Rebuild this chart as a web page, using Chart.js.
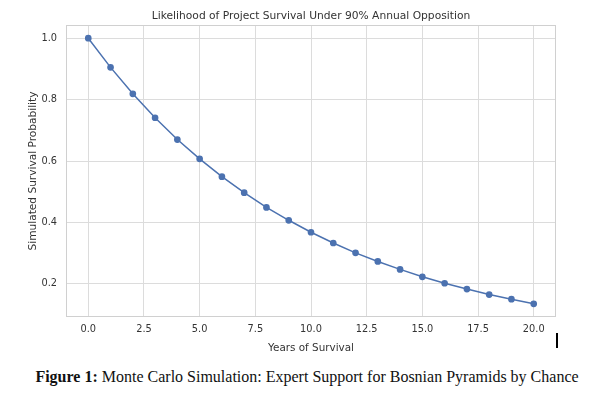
<!DOCTYPE html>
<html>
<head>
<meta charset="utf-8">
<script src="https://cdn.jsdelivr.net/npm/chart.js@4"></script>
<style>
  html, body { margin: 0; padding: 0; background: #fff; }
  body { width: 604px; height: 397px; position: relative; overflow: hidden; }
  #wrap { position: absolute; left: 0; top: 0; width: 604px; height: 355px; }
  #caption {
    position: absolute; left: 0; width: 614px; top: 368px; text-align: center;
    font-family: "Liberation Serif", "Times New Roman", serif; font-size: 16px; color: #111;
  }
  #cursor { position: absolute; left: 556px; top: 333px; width: 2px; height: 15px; background: #000; }
</style>
</head>
<body>
<div id="wrap"><canvas id="chart" width="604" height="355"></canvas></div>
<div id="cursor"></div>
<div id="caption"><b>Figure 1:</b> Monte Carlo Simulation: Expert Support for Bosnian Pyramids by Chance</div>
<script>
// anos simulados e probabilidade de sobrevivência
var years = [0, 1, 2, 3, 4, 5, 6, 7, 8, 9, 10, 11, 12, 13, 14, 15, 16, 17, 18, 19, 20];
var survival = [1.0, 0.905, 0.819, 0.741, 0.670, 0.607, 0.549, 0.497, 0.449, 0.407, 0.368,
                0.333, 0.301, 0.273, 0.247, 0.223, 0.202, 0.183, 0.165, 0.150, 0.135];
var xTicks = [0, 2.5, 5, 7.5, 10, 12.5, 15, 17.5, 20];
var yTicks = [0.2, 0.4, 0.6, 0.8, 1.0];
var TITLE = "Likelihood of Project Survival Under 90% Annual Opposition";

var FONT = "'DejaVu Sans', sans-serif";
var GRID = "#dcdcdc";

// borda da área de plotagem + título centrado sobre ela (como no matplotlib)
var frame = {
  id: "frame",
  afterDraw: function (chart) {
    var a = chart.chartArea, c = chart.ctx;
    c.save();
    c.strokeStyle = "#d0d0d0";
    c.lineWidth = 1;
    c.strokeRect(a.left + 0.5, a.top + 0.5, a.right - a.left - 1, a.bottom - a.top - 1);
    c.fillStyle = "#333";
    c.font = "10.7px " + FONT;
    c.textAlign = "center";
    c.textBaseline = "middle";
    c.fillText(TITLE, (a.left + a.right) / 2, a.top - 9);
    c.restore();
  }
};

new Chart(document.getElementById("chart"), {
  type: "line",
  data: {
    datasets: [{
      data: years.map(function (x, i) { return { x: x, y: survival[i] }; }),
      borderColor: "#4c72b0",
      backgroundColor: "#4c72b0",
      borderWidth: 1.5,
      pointRadius: 2.6,
      pointHoverRadius: 2.6,
      tension: 0
    }]
  },
  options: {
    responsive: false,
    animation: false,
    events: [],
    layout: { padding: { left: 0, right: 48, top: 25, bottom: 0 } },
    plugins: {
      legend: { display: false },
      tooltip: { enabled: false },
      title: { display: false }
    },
    scales: {
      x: {
        type: "linear",
        min: -1, max: 21,
        afterBuildTicks: function (s) { s.ticks = xTicks.map(function (v) { return { value: v }; }); },
        afterFit: function (s) { s.height = 38; },
        grid: { color: GRID, drawTicks: false },
        border: { display: false },
        ticks: {
          padding: 7, color: "#333",
          font: { family: FONT, size: 9.8 },
          callback: function (v) { return v.toFixed(1); }
        },
        title: {
          display: true, text: "Years of Survival", color: "#333",
          font: { family: FONT, size: 10.4 }, padding: { top: 0, bottom: 0 }
        }
      },
      y: {
        min: 0.092, max: 1.043,
        afterBuildTicks: function (s) { s.ticks = yTicks.map(function (v) { return { value: v }; }); },
        afterFit: function (s) { s.width = 66; },
        grid: { color: GRID, drawTicks: false },
        border: { display: false },
        ticks: {
          padding: 9, color: "#333",
          font: { family: FONT, size: 9.8 },
          callback: function (v) { return v.toFixed(1); }
        },
        title: {
          display: true, text: "Simulated Survival Probability", color: "#333",
          font: { family: FONT, size: 10.6 }, padding: { top: 27, bottom: 0 }
        }
      }
    }
  },
  plugins: [frame]
});
</script>
</body>
</html>
